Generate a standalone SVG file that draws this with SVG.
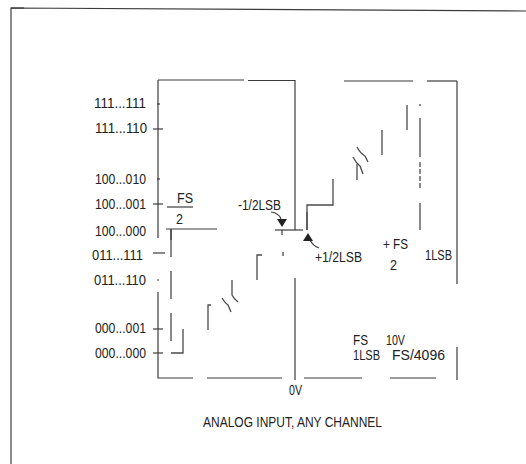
<svg xmlns="http://www.w3.org/2000/svg" width="526" height="464" viewBox="0 0 526 464">
<style>
.ln{stroke:#3c3c3c;stroke-width:1.2;fill:none}
.lg{stroke:#7a7a7a;stroke-width:1.4;fill:none}
.st{stroke:#4a4a4a;stroke-width:1.3;fill:none}
.t{font-family:"Liberation Sans",Arial,sans-serif;font-size:14px;fill:#222}
.tr{text-anchor:end}
.ar{fill:#222}
</style>
<rect width="526" height="464" fill="#fff"/>
<g id="border">
<path class="ln" d="M11,464 V8 L526,11"/>
<path class="ln" d="M11,8 H24"/>
</g>
<g id="frame">
<path class="ln" d="M158,80 H244"/>
<path class="ln" d="M248,80.5 H295"/>
<path class="lg" d="M344,81 H413"/>
<path class="ln" d="M427,81 H457"/>
<path class="ln" d="M295,80 V230"/>
<path class="ln" d="M295,278 V380"/>
<path class="ln" d="M457,81 V284"/>
<path class="ln" d="M457,347 V380"/>
<path class="ln" d="M158,80 V238"/>
<path class="ln" d="M158,292 V378 H193"/>
<path class="ln" d="M207,378 H282"/>
<path class="ln" d="M304,378 H362"/>
<path class="lg" d="M390,378 H436"/>
</g>
<g id="ticks">
<path class="ln" d="M157,104 H160"/>
<path class="ln" d="M153,129 H163"/>
<path class="ln" d="M157,179 H160"/>
<path class="ln" d="M153,204 H163"/>
<path class="ln" d="M153,253 H165"/>
<path class="ln" d="M157,280 H159"/>
<path class="ln" d="M153,329 H163"/>
<path class="ln" d="M153,353 H163"/>
</g>
<g id="y-labels">
<text class="t tr" x="146" y="108" textLength="52" lengthAdjust="spacingAndGlyphs">111...111</text>
<text class="t tr" x="147" y="133" textLength="52" lengthAdjust="spacingAndGlyphs">111...110</text>
<text class="t tr" x="146" y="184" textLength="51" lengthAdjust="spacingAndGlyphs">100...010</text>
<text class="t tr" x="146" y="209" textLength="51" lengthAdjust="spacingAndGlyphs">100...001</text>
<text class="t tr" x="146" y="236" textLength="51" lengthAdjust="spacingAndGlyphs">100...000</text>
<text class="t tr" x="143" y="260" textLength="51" lengthAdjust="spacingAndGlyphs">011...111</text>
<text class="t tr" x="146" y="285" textLength="52" lengthAdjust="spacingAndGlyphs">011...110</text>
<text class="t tr" x="146" y="333" textLength="51" lengthAdjust="spacingAndGlyphs">000...001</text>
<text class="t tr" x="146" y="358" textLength="51" lengthAdjust="spacingAndGlyphs">000...000</text>
</g>
<g id="midline">
<path class="ln" d="M166,229 H217"/>
<path class="ln" d="M275,230 H303"/>
<path class="st" d="M171,229 V353" stroke-dasharray="28,14"/>
<path class="ln" d="M171,229 V240" stroke-width="2"/>
<path class="ln" d="M282,230 V235"/>
<path class="ln" d="M283,252 V256"/>
</g>
<g id="staircase">
<path class="st" d="M171,353 H183 V329"/>
<path class="st" d="M208,330 V305 H211"/>
<path class="st" d="M232,280 V295 Q234,299 238,302"/>
<path class="st" d="M222,298 Q225,303 228,305 L231,312"/>
<path class="st" d="M257,280 V255 H262"/>
<path class="st" d="M307,230 V205 H333 V179" stroke-width="1.4"/>
<path class="st" d="M307,230 V212" stroke-width="2.2"/>
<path class="st" d="M357,147 Q360,153 365,156 L368,162"/>
<path class="st" d="M353,157 Q356,163 360,166 L363,174"/>
<path class="st" d="M357,164 V180"/>
<path class="st" d="M382,155 V130"/>
<path class="st" d="M407,130 V105"/>
<path class="st" d="M420,104 V106"/>
<path class="st" d="M420,118 V157"/>
<path class="st" d="M420,162 V190" stroke-dasharray="5,2"/>
<path class="st" d="M420,203 V230"/>
</g>
<g id="half-lsb">
<path class="ln" d="M271,212 Q279,213 281,219"/>
<polygon class="ar" points="277,219 287,219 282,227"/>
<path class="ln" d="M310,240 Q313,246 319,248"/>
<polygon class="ar" points="303,241 313,241 308,233"/>
<text class="t" x="238" y="210" textLength="43" lengthAdjust="spacingAndGlyphs">-1/2LSB</text>
<text class="t" x="315" y="262" textLength="47" lengthAdjust="spacingAndGlyphs">+1/2LSB</text>
</g>
<g id="fs-labels">
<text class="t" x="177" y="203" textLength="16" lengthAdjust="spacingAndGlyphs">FS</text>
<path class="ln" d="M167,207 H193"/>
<text class="t" x="176" y="224" textLength="7" lengthAdjust="spacingAndGlyphs">2</text>
<text class="t" x="383" y="249" textLength="25" lengthAdjust="spacingAndGlyphs">+ FS</text>
<text class="t" x="390" y="270" textLength="7" lengthAdjust="spacingAndGlyphs">2</text>
<text class="t" x="425" y="260" textLength="27" lengthAdjust="spacingAndGlyphs">1LSB</text>
</g>
<g id="notes">
<text class="t" x="353" y="345" textLength="15" lengthAdjust="spacingAndGlyphs">FS</text>
<text class="t" x="386" y="345" textLength="19" lengthAdjust="spacingAndGlyphs">10V</text>
<text class="t" x="353" y="360" textLength="27" lengthAdjust="spacingAndGlyphs">1LSB</text>
<text class="t" x="392" y="360" textLength="53" lengthAdjust="spacingAndGlyphs">FS/4096</text>
<text class="t" x="289" y="395" textLength="13" lengthAdjust="spacingAndGlyphs">0V</text>
<text class="t" x="203" y="427" textLength="179" lengthAdjust="spacingAndGlyphs">ANALOG INPUT, ANY CHANNEL</text>
</g>
</svg>
